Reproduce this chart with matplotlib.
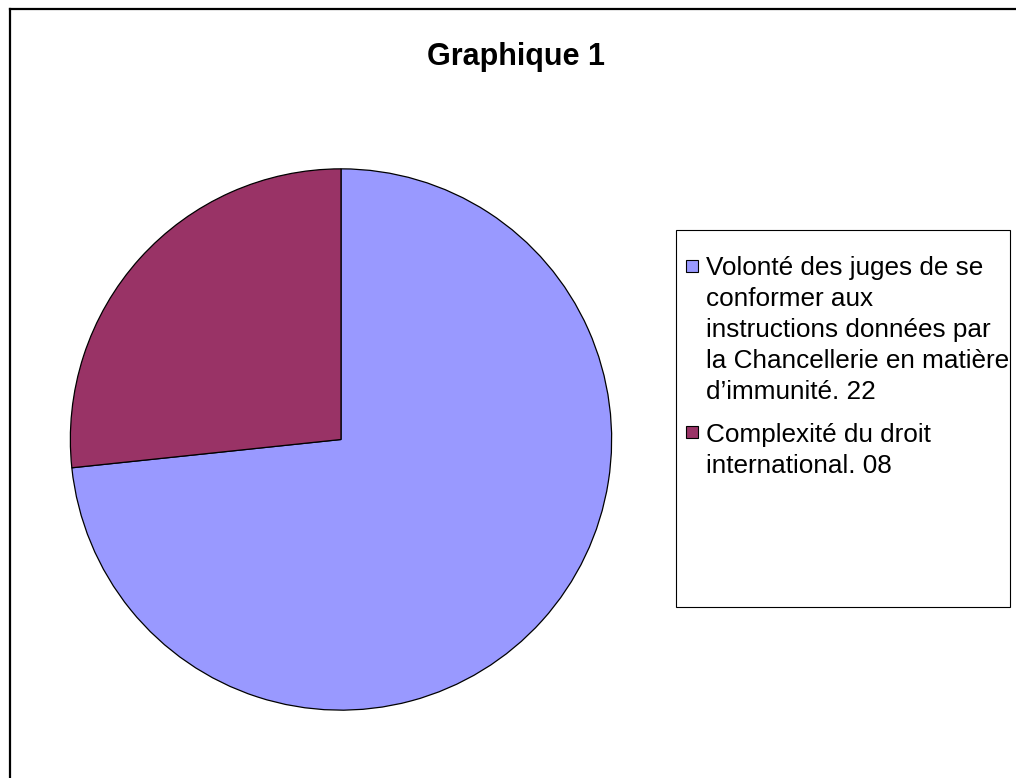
import matplotlib
matplotlib.use("Agg")
import matplotlib.pyplot as plt
from matplotlib.patches import Rectangle
from matplotlib.lines import Line2D

W, H = 1016, 778
DPI = 100

title = "Graphique 1"
categories = [
    ["Volonté des juges de se", "conformer aux", "instructions données par",
     "la Chancellerie en matière", "d’immunité. 22"],
    ["Complexité du droit", "international. 08"],
]
values = [22, 8]
colors = ["#9999FF", "#993366"]

plt.rcParams['font.family'] = ['Liberation Sans', 'DejaVu Sans']

fig = plt.figure(figsize=(W / DPI, H / DPI), dpi=DPI)

def fx(px):
    return px / W

def fy(py):
    return 1 - py / H

# outer frame (only left and top edges visible)
fig.add_artist(Line2D([fx(10), fx(10)], [fy(9), 0], transform=fig.transFigure,
                      color="black", lw=1.6))
fig.add_artist(Line2D([fx(10), 1], [fy(9), fy(9)], transform=fig.transFigure,
                      color="black", lw=1.6))

# pie
cx, cy, r = 341, 439.5, 272
ax = fig.add_axes([fx(cx - r), fy(cy + r), (2 * r) / W, (2 * r) / H])
ax.pie(values, colors=colors, startangle=90, counterclock=False, radius=1,
       wedgeprops=dict(edgecolor="black", linewidth=0.9))
ax.set_xlim(-1.005, 1.005)
ax.set_ylim(-1.005, 1.005)
ax.set_aspect("equal")
ax.axis("off")

# title
fig.text(fx(516), fy(57), title, ha="center", va="center",
         fontsize=22, fontweight="bold")

# legend box
fig.add_artist(Rectangle((fx(676), fy(607)), fx(1010) - fx(676), fy(230) - fy(607),
                         transform=fig.transFigure, facecolor="white",
                         edgecolor="black", lw=0.8))

line_h = 31
y = 266
for lines, col in zip(categories, colors):
    fig.add_artist(Rectangle((fx(686), fy(y + 6)), fx(12), 12 / H,
                             transform=fig.transFigure, facecolor=col,
                             edgecolor="black", lw=0.8))
    for ln in lines:
        fig.text(fx(706), fy(y), ln, ha="left", va="center_baseline", fontsize=18.8)
        y += line_h
    y += 11

fig.savefig("out.png", dpi=DPI)
